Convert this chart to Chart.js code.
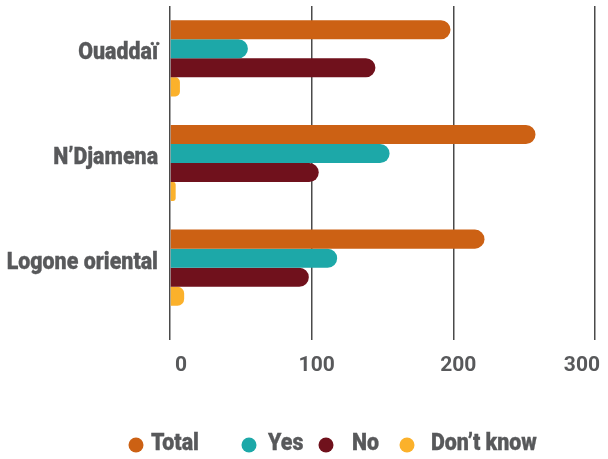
<!DOCTYPE html>
<html>
<head>
<meta charset="utf-8">
<script src="https://cdn.jsdelivr.net/npm/chart.js@4"></script>
<style>
  html, body { margin: 0; padding: 0; background: #fff; }
  canvas { display: block; }
</style>
</head>
<body>
<canvas id="chart" width="608" height="459"></canvas>
<script>
// Regions and survey answer counts
const categories = ["Ouaddaï", "N’Djamena", "Logone oriental"];
const totalValues = [198, 258, 222];
const yesValues = [55, 155, 118];
const noValues = [145, 105, 98];
const dontKnowValues = [7, 4, 10];
const seriesLabels = ["Total", "Yes", "No", "Don’t know"];
const xTicks = [0, 100, 200, 300];

const colors = ["#CC6114", "#1DA8A8", "#70111C", "#FBB12B"];
const textColor = "#58595B";
const labelFont = "900 23px Roboto, sans-serif";
const narrow = 0.93; // horizontal squeeze for a condensed look

// Draw text squeezed horizontally around its anchor point
function drawNarrowText(ctx, text, x, y, align) {
  ctx.save();
  ctx.translate(x, y);
  ctx.scale(narrow, 1);
  ctx.font = labelFont;
  ctx.fillStyle = textColor;
  ctx.strokeStyle = textColor;
  ctx.lineWidth = 0.3;
  ctx.textAlign = align;
  ctx.textBaseline = "alphabetic";
  ctx.fillText(text, 0, 0);
  ctx.strokeText(text, 0, 0);
  ctx.restore();
}

// Category names beside the bars, in a condensed bold face
const categoryLabels = {
  id: "categoryLabels",
  afterDraw(chart) {
    const yScale = chart.scales.y;
    const x = chart.chartArea.left - 12;
    chart.data.labels.forEach((label, i) => {
      drawNarrowText(chart.ctx, label, x, yScale.getPixelForTick(i) + 1, "right");
    });
  }
};

// Legend along the bottom with round markers
const bottomLegend = {
  id: "bottomLegend",
  afterDraw(chart) {
    const ctx = chart.ctx;
    const items = [
      { dot: 136, text: 151 },
      { dot: 249, text: 268 },
      { dot: 326, text: 352 },
      { dot: 407, text: 431 }
    ];
    const baseline = 450;
    chart.data.datasets.forEach((ds, i) => {
      const it = items[i];
      ctx.save();
      ctx.beginPath();
      ctx.arc(it.dot, 445, 7.5, 0, Math.PI * 2);
      ctx.fillStyle = ds.backgroundColor;
      ctx.fill();
      ctx.restore();
      drawNarrowText(ctx, ds.label, it.text, baseline, "left");
    });
  }
};

const seriesData = [totalValues, yesValues, noValues, dontKnowValues];

new Chart(document.getElementById("chart"), {
  type: "bar",
  data: {
    labels: categories,
    datasets: seriesData.map((vals, i) => ({
      label: seriesLabels[i],
      data: vals,
      backgroundColor: colors[i],
      borderRadius: 10,
      borderSkipped: "start",
      categoryPercentage: 0.727,
      barPercentage: 1.0
    }))
  },
  options: {
    indexAxis: "y",
    responsive: false,
    animation: false,
    layout: { padding: { top: 6, bottom: 79, left: 0, right: 0 } },
    plugins: {
      legend: { display: false },
      tooltip: { enabled: false }
    },
    scales: {
      x: {
        min: 0,
        max: 300,
        afterBuildTicks: (scale) => { scale.ticks = xTicks.map(v => ({ value: v })); },
        afterFit: (scale) => { scale.height = 60; },
        border: { display: false },
        grid: {
          color: "#4A4A4A",
          lineWidth: 1.5,
          drawTicks: true,
          tickLength: 20,
          tickColor: "#4A4A4A"
        },
        ticks: {
          align: "inner",
          labelOffset: 5,
          padding: 13,
          color: textColor,
          font: { family: "Roboto", weight: "bold", size: 21 }
        }
      },
      y: {
        afterFit: (scale) => {
          scale.width = 170;
          scale.paddingTop = 0;
          scale.paddingBottom = 0;
        },
        border: { display: false },
        grid: { display: false },
        ticks: { display: false }
      }
    }
  },
  plugins: [categoryLabels, bottomLegend]
});
</script>
</body>
</html>
